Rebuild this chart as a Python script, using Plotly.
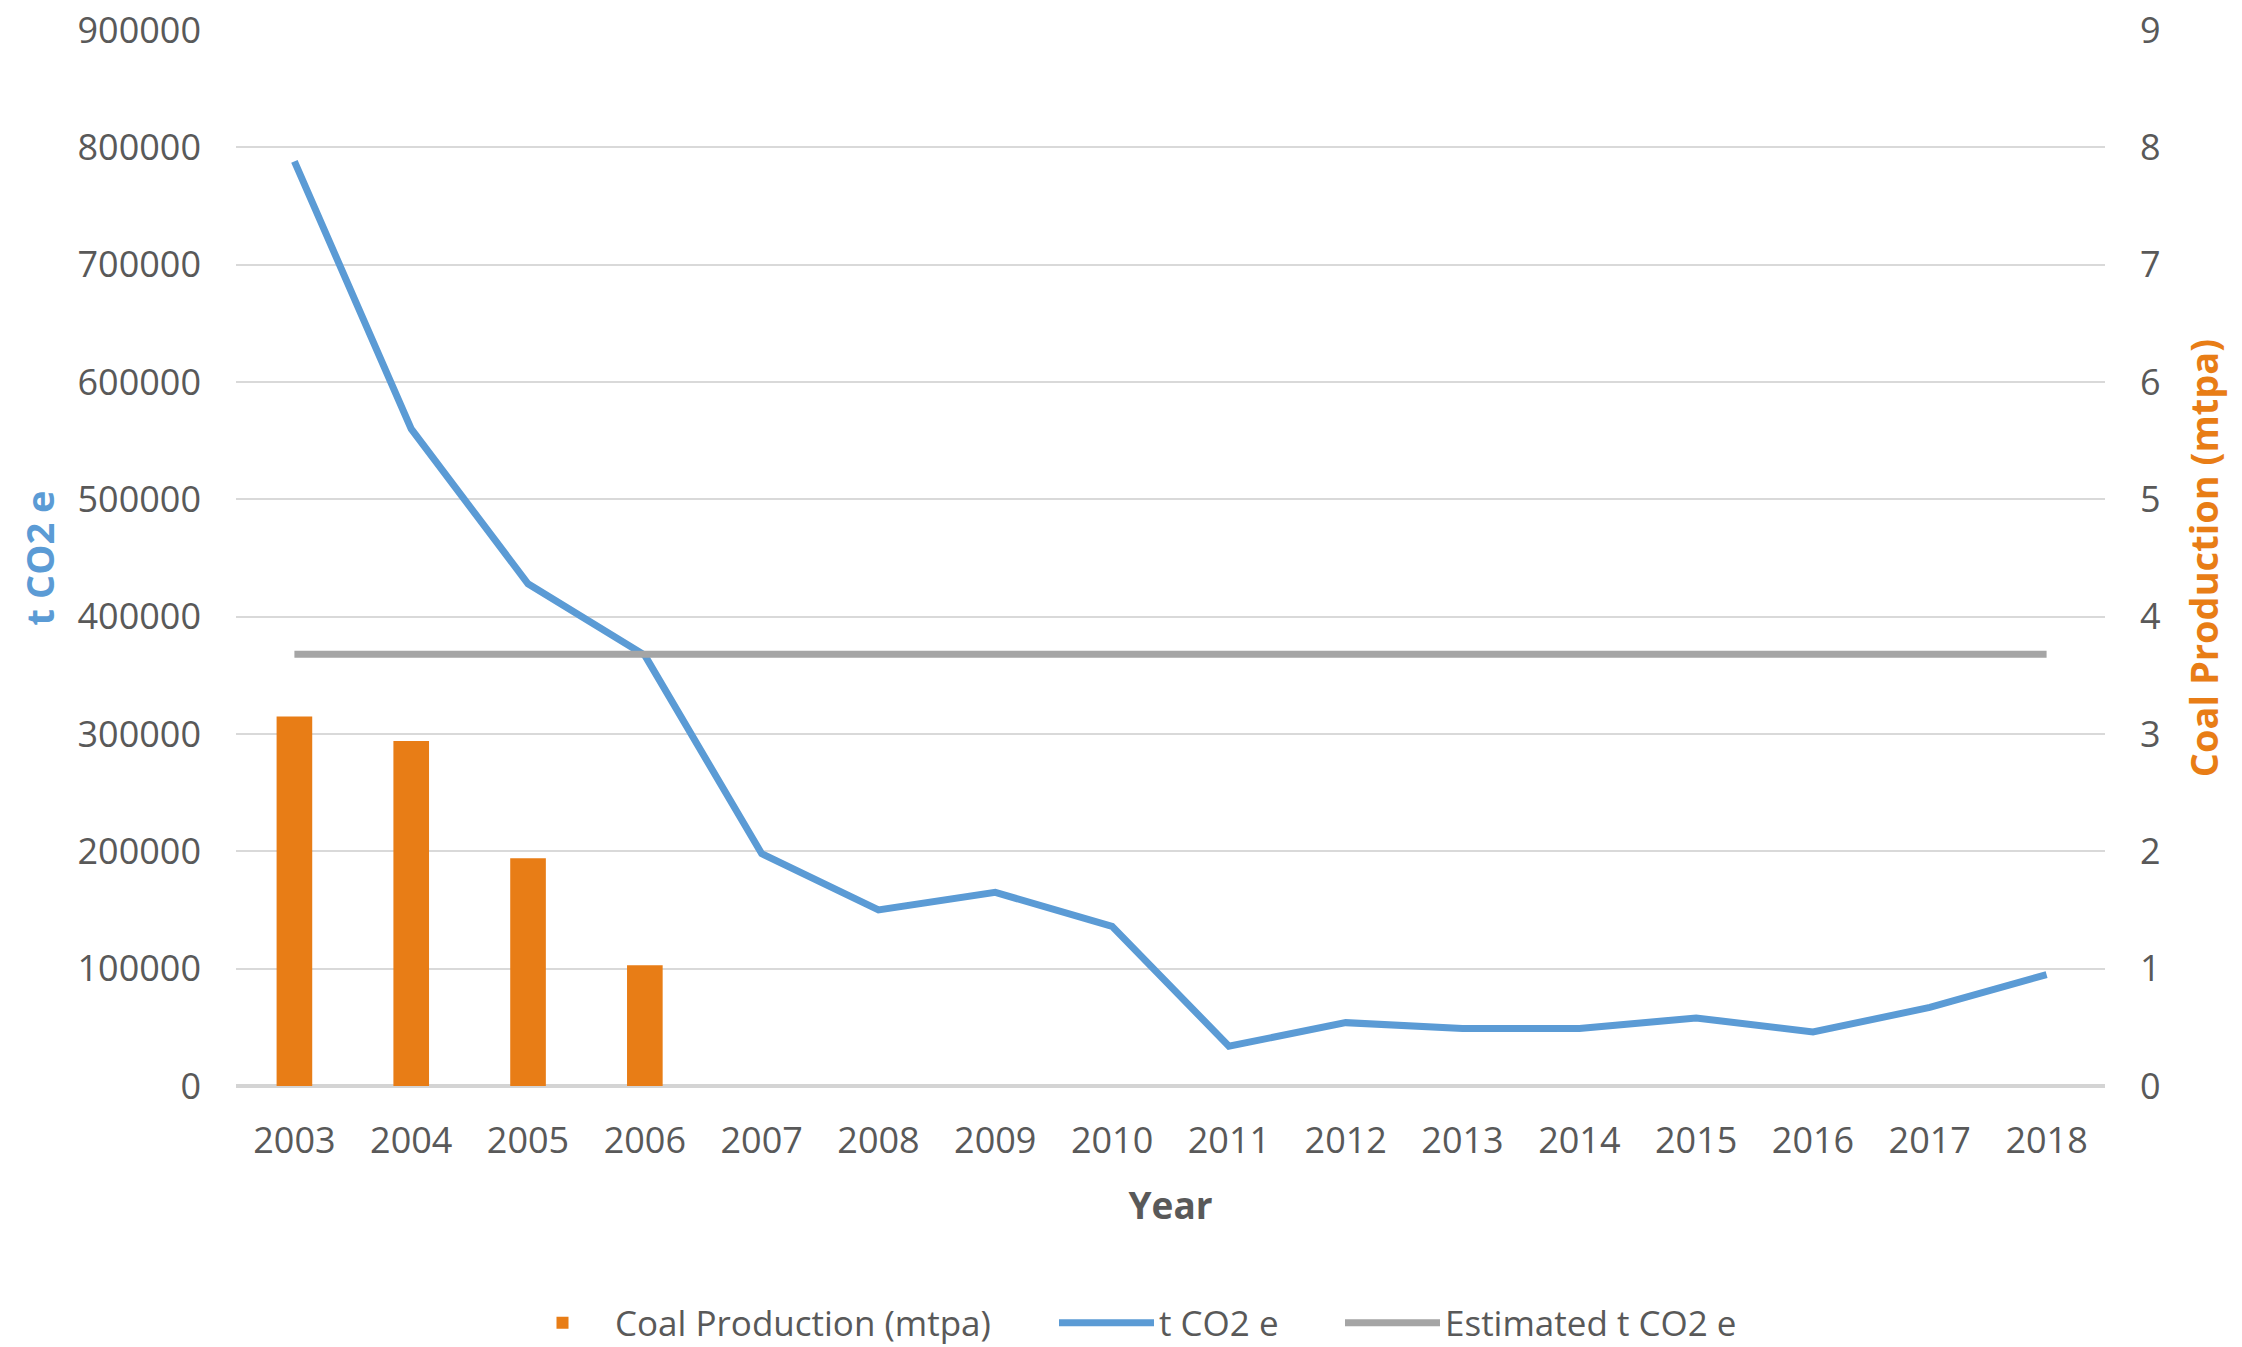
import plotly.graph_objects as go

years = [str(y) for y in range(2003, 2019)]
coal_years = ["2003", "2004", "2005", "2006"]
coal_production = [3.15, 2.94, 1.94, 1.03]
t_co2e = [788000, 560000, 428000, 367000, 198000, 150000, 165000, 136000,
          34000, 54000, 49000, 49000, 58000, 46000, 67000, 95000]
estimated_t_co2e = [368000] * 16

left_ticks = list(range(0, 900001, 100000))
right_ticks = list(range(0, 10))

BLUE = "#5B9BD5"
ORANGE = "#E87D16"
GRAY = "#A5A5A5"
TXT = "#595959"
FONT = "Open Sans"
W, H = 2242, 1347

fig = go.Figure()
fig.add_trace(go.Bar(x=coal_years, y=coal_production, name="Coal Production (mtpa)",
                     marker=dict(color=ORANGE, line=dict(width=0)), yaxis="y2",
                     legend="legend"))
fig.add_trace(go.Scatter(x=years, y=t_co2e, name="t CO2 e", mode="lines",
                         line=dict(color=BLUE, width=7), legend="legend2"))
fig.add_trace(go.Scatter(x=years, y=estimated_t_co2e, name="Estimated t CO2 e", mode="lines",
                         line=dict(color=GRAY, width=7), legend="legend3"))

leg_common = dict(orientation="h", xref="container", yref="container",
                  xanchor="left", yanchor="middle", y=1 - 1323 / H,
                  font=dict(size=35, color=TXT), itemwidth=95,
                  bgcolor="rgba(0,0,0,0)", borderwidth=0)

fig.update_layout(
    width=W, height=H,
    template="none",
    margin=dict(l=236, r=137, t=30, b=261, pad=0),
    paper_bgcolor="white", plot_bgcolor="white",
    font=dict(family=FONT, size=36, color=TXT),
    bargap=0.695,
    xaxis=dict(type="category", categoryorder="array", categoryarray=years,
               range=[-0.5, 15.5], automargin=False,
               showgrid=False, showline=False, ticks="", zeroline=False,
               tickfont=dict(size=36, color=TXT), ticklabelstandoff=30,
               title=dict(text="<b>Year</b>", font=dict(size=37, color=TXT), standoff=30)),
    yaxis=dict(range=[0, 900000], tickvals=left_ticks, ticktext=[str(v) for v in left_ticks],
               automargin=False,
               showgrid=True, gridcolor="#D9D9D9", gridwidth=2,
               zeroline=True, zerolinecolor="#D4D4D4", zerolinewidth=4,
               showline=False, ticks="", ticklabelstandoff=34,
               tickfont=dict(size=36, color=TXT),
               title=dict(text="<b>t CO2 e</b>", font=dict(size=38, color=BLUE), standoff=11)),
    yaxis2=dict(range=[0, 9], tickvals=right_ticks, overlaying="y", side="right",
                automargin=False,
                showgrid=False, zeroline=False, showline=False, ticks="",
                ticklabelstandoff=34, tickfont=dict(size=36, color=TXT),
                title=dict(text="<b>Coal Production (mtpa)</b>", font=dict(size=38, color=ORANGE),
                           standoff=31)),
    legend=dict(leg_common, x=510 / W),
    legend2=dict(leg_common, x=1054 / W),
    legend3=dict(leg_common, x=1340 / W),
    showlegend=True,
)

fig.write_html("out.html")
